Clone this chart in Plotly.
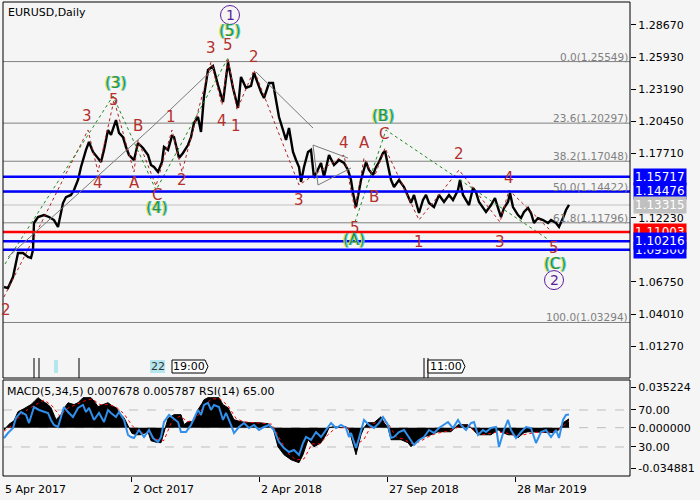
import plotly.graph_objects as go

W, H = 700, 500
FONT = "DejaVu Sans"

# ---------------- data ----------------
bars = [0, 4, 9, 10, 14, 19, 24, 27, 29, 30, 34, 40, 45, 50, 54, 59, 62, 67, 70, 74,
        77, 82, 85, 89, 94, 97, 100, 104, 107, 112, 115, 119, 122, 125, 130, 134, 139, 144, 147, 150,
        154, 158, 160, 164, 168, 170, 175, 179, 184, 187, 190, 194, 197, 200, 204, 209, 214, 219, 224, 229,
        234, 237, 242, 247, 250, 254, 257, 260, 265, 269, 272, 275, 279, 282, 285, 289, 292, 295, 297, 300,
        304, 307, 310, 314, 317, 320, 325, 330, 335, 340, 344, 347, 349, 352, 354, 357, 362, 365, 369, 372,
        375, 379, 381, 384, 387, 390, 395, 400, 404, 407, 410, 415, 419, 422, 425, 430, 435, 440, 445, 449,
        454, 456, 459, 462, 465, 469, 472, 475, 479, 482, 487, 491, 494, 497, 500, 504, 506, 509, 514, 517,
        520, 524, 527, 530, 534, 539, 544, 547, 552, 555, 559, 562, 565]
close = [1.0632, 1.0623, 1.0717, 1.0760, 1.0922, 1.0922, 1.0888, 1.0879, 1.0948, 1.1178, 1.1229, 1.1246, 1.1229, 1.1203, 1.1144, 1.1348, 1.1399, 1.1417, 1.1459, 1.1545,
         1.1656, 1.1801, 1.1869, 1.1784, 1.1732, 1.1698, 1.1801, 1.1971, 1.1929, 1.2056, 1.1946, 1.1911, 1.1826, 1.1758, 1.1715, 1.1860, 1.1818, 1.1758, 1.1673, 1.1656,
         1.1613, 1.1698, 1.1826, 1.1801, 1.1920, 1.1911, 1.1732, 1.1775, 1.1843, 1.1911, 1.2031, 1.2082, 1.1954, 1.2261, 1.2483, 1.2517, 1.2355, 1.2210, 1.2551, 1.2330,
         1.2159, 1.2424, 1.2330, 1.2347, 1.2458, 1.2355, 1.2295, 1.2244, 1.2372, 1.2372, 1.2227, 1.2082, 1.1971, 1.1886, 1.1988, 1.1784, 1.1715, 1.1656, 1.1528, 1.1656,
         1.1784, 1.1801, 1.1562, 1.1630, 1.1690, 1.1570, 1.1758, 1.1673, 1.1715, 1.1690, 1.1630, 1.1545, 1.1434, 1.1314, 1.1417, 1.1545, 1.1698, 1.1630, 1.1587, 1.1656,
         1.1698, 1.1775, 1.1792, 1.1656, 1.1545, 1.1485, 1.1545, 1.1485, 1.1400, 1.1349, 1.1417, 1.1263, 1.1374, 1.1417, 1.1349, 1.1314, 1.1417, 1.1357, 1.1417, 1.1374,
         1.1459, 1.1545, 1.1417, 1.1374, 1.1331, 1.1476, 1.1442, 1.1357, 1.1306, 1.1272, 1.1331, 1.1391, 1.1306, 1.1229, 1.1306, 1.1357, 1.1434, 1.1314, 1.1246, 1.1220,
         1.1272, 1.1306, 1.1263, 1.1178, 1.1220, 1.1203, 1.1178, 1.1203, 1.1178, 1.1144, 1.1220, 1.1289, 1.13315]

macd_bars = [0, 5, 10, 14, 19, 22, 27, 30, 34, 37, 40, 44, 47, 52, 57, 61, 64, 70, 74, 79,
             84, 87, 91, 94, 99, 104, 108, 112, 116, 120, 125, 128, 133, 137, 141, 144, 147, 152, 157, 160,
             164, 170, 177, 180, 184, 190, 194, 198, 200, 204, 210, 215, 219, 224, 230, 237, 245, 255, 264, 269,
             274, 280, 287, 295, 299, 304, 310, 317, 322, 325, 330, 337, 342, 345, 347, 352, 357, 360, 364, 370,
             377, 380, 384, 387, 392, 397, 404, 407, 414, 420, 427, 434, 442, 447, 454, 459, 464, 467, 474, 480,
             487, 494, 497, 504, 510, 514, 520, 524, 534, 540, 547, 552, 555, 559, 565]
macd = [-0.002, 0.003, 0.006, 0.0139, 0.016, 0.0173, 0.020, 0.0225, 0.026, 0.024, 0.0225, 0.020, 0.0173, 0.0069, 0.0113, 0.018, 0.0216, 0.020, 0.0216, 0.026,
        0.026, 0.026, 0.022, 0.0182, 0.020, 0.0216, 0.019, 0.0173, 0.012, 0.0087, 0.0, -0.005, -0.0061, -0.006, -0.0045, -0.0035, -0.0113, -0.0125, -0.013, -0.003,
        0.008, 0.0113, 0.0113, 0.0026, 0.0052, 0.0052, 0.0156, 0.021, 0.0242, 0.026, 0.026, 0.026, 0.0199, 0.0173, 0.0069, 0.0052, 0.0043, 0.0043, 0.0035, 0.0,
        -0.0165, -0.0234, -0.0277, -0.0303, -0.0234, -0.0104, -0.0165, -0.013, -0.0061, 0.0, 0.001, 0.0, 0.001, -0.002, -0.0078, -0.0234, -0.0061, 0.0, 0.0043, 0.0043,
        0.0095, 0.0043, 0.0, -0.0104, -0.0104, -0.0104, -0.013, -0.0165, -0.0104, -0.0078, -0.0061, -0.0035, -0.0035, -0.0035, 0.0026, 0.0026, 0.0026, 0.0, -0.0061, -0.0061,
        -0.0061, -0.0017, -0.0035, -0.0061, -0.0061, -0.0087, -0.0043, -0.0035, -0.0035, -0.0040, -0.0043, -0.0035, -0.0017, 0.0043, 0.007678]

sig_bars = [0, 8, 16, 24, 32, 40, 48, 56, 64, 72, 80, 88, 96, 104, 112, 120, 128, 136, 144, 152,
            160, 168, 176, 184, 192, 200, 208, 216, 224, 232, 240, 256, 268, 276, 284, 292, 300, 308, 316, 324,
            332, 344, 352, 360, 368, 376, 384, 392, 400, 408, 416, 424, 432, 444, 456, 464, 472, 480, 492, 500,
            512, 520, 532, 544, 552, 560, 565]
sig = [-0.003, 0.002, 0.010, 0.016, 0.020, 0.024, 0.019, 0.010, 0.017, 0.020, 0.023, 0.025, 0.020, 0.020, 0.018, 0.012, 0.002, -0.005, -0.004, -0.010,
       -0.011, 0.006, 0.010, 0.005, 0.008, 0.019, 0.025, 0.025, 0.019, 0.008, 0.005, 0.004, 0.003, -0.010, -0.022, -0.028, -0.027, -0.014, -0.014, -0.006,
       0.0, 0.0, -0.015, -0.010, 0.003, 0.006, 0.004, -0.008, -0.010, -0.014, -0.012, -0.008, -0.005, -0.003, 0.001, 0.002, -0.004, -0.006, -0.004, -0.004,
       -0.007, -0.006, -0.004, -0.004, -0.003, 0.002, 0.005787]

rsi_bars = [0, 4, 9, 12, 17, 22, 25, 30, 35, 40, 44, 47, 50, 54, 57, 60, 64, 69, 74, 79,
            82, 85, 90, 95, 100, 104, 107, 112, 115, 120, 124, 127, 130, 135, 140, 145, 149, 154, 157, 160,
            165, 169, 174, 177, 182, 187, 190, 194, 197, 200, 204, 207, 210, 215, 219, 222, 227, 230, 235, 240,
            245, 250, 255, 260, 265, 270, 275, 280, 285, 290, 295, 299, 302, 307, 312, 317, 322, 327, 332, 337,
            342, 345, 347, 352, 355, 360, 365, 370, 375, 379, 384, 387, 390, 395, 400, 405, 410, 415, 420, 425,
            430, 435, 440, 444, 449, 454, 457, 462, 467, 470, 474, 479, 482, 487, 492, 495, 500, 504, 507, 512,
            517, 522, 527, 532, 537, 542, 547, 552, 555, 559, 562, 565]
rsi = [39.7, 45.1, 50.5, 61.4, 67.8, 64.6, 55.9, 73.2, 70.0, 67.8, 66.8, 59.2, 53.8, 51.6, 61.4, 73.2, 67.8, 62.4, 72.2, 75.4,
       67.8, 72.2, 59.2, 66.8, 57.0, 70.0, 66.8, 62.4, 67.8, 59.2, 43.0, 40.8, 39.7, 48.4, 40.8, 48.4, 39.7, 35.4, 40.8, 57.0,
       64.6, 61.4, 57.0, 46.2, 46.2, 53.8, 61.4, 70.0, 64.6, 75.4, 77.6, 70.0, 75.4, 73.2, 59.2, 66.8, 53.8, 45.1, 51.6, 55.9,
       50.5, 53.8, 48.4, 51.6, 53.8, 48.4, 35.4, 28.9, 24.6, 26.8, 21.4, 34.3, 40.8, 37.6, 46.2, 40.8, 48.4, 55.9, 50.5, 53.8,
       50.5, 40.8, 45.1, 28.9, 39.7, 59.2, 53.8, 50.5, 55.9, 62.4, 53.8, 39.7, 40.8, 46.2, 48.4, 40.8, 32.2, 37.6, 40.8, 48.4,
       45.1, 50.5, 53.8, 57.0, 50.5, 59.2, 53.8, 48.4, 55.9, 57.0, 43.0, 48.4, 46.2, 50.5, 51.6, 30.0, 48.4, 59.2, 48.4, 39.7,
       46.2, 51.6, 50.5, 34.3, 46.2, 48.4, 40.8, 48.4, 39.7, 59.2, 64.6, 65.0]

fib_levels = [1.25549, 1.20297, 1.17048, 1.14422, 1.11796, 1.03294]
fib_pct = ["0.0", "23.6", "38.2", "50.0", "61.8", "100.0"]
blue_levels = [1.15717, 1.14476, 1.10216, 1.09500]
red_level = 1.11003
last_price = 1.13315
price_ticks = [1.28670, 1.25930, 1.23190, 1.20450, 1.17710, 1.12230, 1.06750, 1.04010, 1.01270]
date_bars = [-1, 127, 255, 383, 511]
date_labels = ["5 Apr 2017", "2 Oct 2017", "2 Apr 2018", "27 Sep 2018", "28 Mar 2019"]

# wave labels
minor_txt = ["2", "3", "5", "B", "4", "A", "1", "C", "2", "3", "5", "4", "1", "2", "3", "4", "A", "C", "B", "5", "1", "2", "4", "3", "5"]
minor_bar = [2, 83, 110, 134, 94, 130, 167, 153, 178, 207, 224, 218, 232, 250, 295, 340, 360, 380, 370, 351, 415, 455, 505, 496, 550]
minor_px = [1.0436, 1.2091, 1.2227, 1.2005, 1.1519, 1.1519, 1.2082, 1.1417, 1.1545, 1.2671, 1.2696, 1.2048, 1.2005, 1.2594, 1.1374,
            1.1860, 1.1860, 1.1937, 1.1400, 1.1135, 1.1016, 1.1766, 1.1562, 1.1016, 1.0965]
inter_txt = ["(3)", "(5)", "(4)", "(B)", "(A)", "(C)"]
inter_bar = [111, 225, 152, 379, 350, 551]
inter_px = [1.2372, 1.2816, 1.1306, 1.2091, 1.1033, 1.0828]
prim_txt = ["1", "2"]
prim_bar = [226, 550]
prim_px = [1.2952, 1.0691]

# wave paths
minor_path_bar = [0, 84, 94, 110, 130, 134, 152, 168, 178, 207, 218, 224, 233, 250, 295, 340, 351, 360, 370, 381, 415, 455, 496, 505, 549]
minor_path_px = [1.0547, 1.1971, 1.1613, 1.2227, 1.1613, 1.1886, 1.1494, 1.1971, 1.1613, 1.2551, 1.2184, 1.2585, 1.2142, 1.2483, 1.1502,
                 1.1758, 1.1289, 1.1732, 1.1562, 1.1818, 1.1204, 1.1630, 1.1186, 1.1459, 1.1093]
inter_path1_bar = [1, 109, 152, 225]
inter_path1_px = [1.0828, 1.2261, 1.1459, 1.2602]
inter_path2_bar = [351, 382, 545]
inter_path2_px = [1.1186, 1.1971, 1.1033]

# gray channel / triangle lines: (bar0, price0, bar1, price1)
gray_lines = [(4, 1.0888, 147, 1.1988), (147, 1.1988, 210, 1.2500), (252, 1.2466, 309, 1.1988),
              (309, 1.1843, 344, 1.1732), (314, 1.1502, 347, 1.1647), (309, 1.1843, 314, 1.1502)]

# ---------------- figure ----------------
def pxx(p):
    return p / W


def pxy(p):
    return 1 - p / H


X0, X1 = pxx(3), pxx(630)
MAIN = [pxy(378), pxy(2)]
SUB = [pxy(476), pxy(380)]
RED = "#B4302C"
GREEN = "#22904A"
PURPLE = "#5B1F9A"

fig = go.Figure()

# price
fig.add_trace(go.Scatter(x=bars, y=close, mode="lines", line=dict(color="black", width=2.4),
                         xaxis="x", yaxis="y", hoverinfo="skip"))
# wave paths
fig.add_trace(go.Scatter(x=minor_path_bar, y=minor_path_px, mode="lines",
                         line=dict(color="#B22222", width=1, dash="dot"), xaxis="x", yaxis="y"))
fig.add_trace(go.Scatter(x=inter_path1_bar, y=inter_path1_px, mode="lines",
                         line=dict(color="#1E8C1E", width=1, dash="dot"), xaxis="x", yaxis="y"))
fig.add_trace(go.Scatter(x=inter_path2_bar, y=inter_path2_px, mode="lines",
                         line=dict(color="#1E8C1E", width=1, dash="dot"), xaxis="x", yaxis="y"))

# MACD histogram, signal, RSI
fig.add_trace(go.Scatter(x=macd_bars, y=macd, mode="lines", fill="tozeroy", fillcolor="black",
                         line=dict(color="black", width=1), xaxis="x2", yaxis="y2"))
fig.add_trace(go.Scatter(x=sig_bars, y=sig, mode="lines", line=dict(color="red", width=1, dash="dot"),
                         xaxis="x2", yaxis="y2"))
fig.add_trace(go.Scatter(x=rsi_bars, y=rsi, mode="lines", line=dict(color="#2F8FEA", width=2),
                         xaxis="x2", yaxis="y3"))

shapes = []
# fibonacci levels
for lv in fib_levels:
    shapes.append(dict(type="line", xref="paper", yref="y", x0=X0, x1=X1, y0=lv, y1=lv,
                       line=dict(color="#808080", width=1), layer="below"))
shapes.append(dict(type="line", xref="paper", yref="y", x0=X0, x1=X1, y0=last_price, y1=last_price,
                   line=dict(color="#C0C0C0", width=1), layer="below"))
for lv in blue_levels:
    shapes.append(dict(type="line", xref="paper", yref="y", x0=X0, x1=X1, y0=lv, y1=lv,
                       line=dict(color="#0000FF", width=2.5)))
shapes.append(dict(type="line", xref="paper", yref="y", x0=X0, x1=X1, y0=red_level, y1=red_level,
                   line=dict(color="#FF0000", width=2.5)))
for b0, p0, b1, p1 in gray_lines:
    shapes.append(dict(type="line", xref="x", yref="y", x0=b0, x1=b1, y0=p0, y1=p1,
                       line=dict(color="#7A7A7A", width=1)))
# circles around primary degree
for b, p in zip(prim_bar, prim_px):
    shapes.append(dict(type="circle", xref="x", yref="y", xsizemode="pixel", ysizemode="pixel",
                       xanchor=b, yanchor=p, x0=-9.5, x1=9.5, y0=-9.5, y1=9.5,
                       line=dict(color=PURPLE, width=1)))
# MACD panel levels
for v, ref in [(70, "y3"), (0, "y2"), (30, "y3")]:
    shapes.append(dict(type="line", xref="paper", yref=ref, x0=X0, x1=X1, y0=v, y1=v,
                       line=dict(color="#BDBDBD", width=1, dash="dash"), layer="below"))
# time markers at bottom of main panel
for b in [30, 35, 75, 420, 424]:
    shapes.append(dict(type="line", xref="x", yref="paper", x0=b, x1=b, y0=pxy(378), y1=pxy(358),
                       line=dict(color="black", width=1)))
shapes.append(dict(type="rect", xref="x", yref="paper", x0=50, x1=54, y0=pxy(373), y1=pxy(360),
                   fillcolor="#B4E6EE", line=dict(width=0)))
shapes.append(dict(type="rect", xref="x", yref="paper", x0=146, x1=161, y0=pxy(373), y1=pxy(360),
                   fillcolor="#B4E6EE", line=dict(width=0)))
for a, b in [(168, 201), (424, 458)]:
    shapes.append(dict(type="path", xref="x", yref="paper",
                       path=f"M {a},{pxy(360)} L {b},{pxy(360)} L {b+3},{pxy(366.5)} L {b},{pxy(373)} L {a},{pxy(373)} Z",
                       fillcolor="white", line=dict(color="black", width=1)))
# panel frames
shapes.append(dict(type="rect", xref="paper", yref="paper", x0=X0, x1=X1, y0=MAIN[0], y1=MAIN[1],
                   line=dict(color="black", width=1)))
shapes.append(dict(type="rect", xref="paper", yref="paper", x0=X0, x1=X1, y0=SUB[0], y1=SUB[1],
                   line=dict(color="black", width=1)))

ann = []
ann.append(dict(text="EURUSD,Daily", xref="paper", yref="paper", x=pxx(6), y=pxy(12), xanchor="left",
                yanchor="middle", showarrow=False, font=dict(family=FONT, size=11, color="black")))
ann.append(dict(text="MACD(5,34,5) 0.007678 0.005787 RSI(14) 65.00", xref="paper", yref="paper",
                x=pxx(5), y=pxy(391), xanchor="left", yanchor="middle", showarrow=False,
                font=dict(family=FONT, size=11, color="black")))
for lv, pc in zip(fib_levels, fib_pct):
    ann.append(dict(text=f"{pc}({lv:.5f})", xref="paper", yref="y", x=pxx(629), y=lv, xanchor="right",
                    yanchor="bottom", showarrow=False, borderpad=0, yshift=-2,
                    font=dict(family=FONT, size=10.5, color="#808080")))
for b, lab in zip(date_bars, date_labels):
    ann.append(dict(text=lab, xref="x2", yref="paper", x=b, y=pxy(489), xanchor="left", yanchor="middle",
                    showarrow=False, font=dict(family=FONT, size=11, color="black")))
# wave labels
for t, b, p in zip(minor_txt, minor_bar, minor_px):
    ann.append(dict(text=t, xref="x", yref="y", x=b, y=p, showarrow=False,
                    font=dict(family=FONT, size=15, color=RED)))
for t, b, p in zip(inter_txt, inter_bar, inter_px):
    ann.append(dict(text=t, xref="x", yref="y", x=b, y=p, showarrow=False,
                    font=dict(family=FONT, size=15, color=GREEN,
                              shadow="-1px 0px 0px #E8E040, 1px 0px 0px #40D0E0")))
for t, b, p in zip(prim_txt, prim_bar, prim_px):
    ann.append(dict(text=t, xref="x", yref="y", x=b, y=p, showarrow=False,
                    font=dict(family=FONT, size=14, color=PURPLE)))
# time marker texts
for t, b, c in [("22", 153.5, "#333333"), ("19:00", 185, "black"), ("11:00", 441.5, "black")]:
    ann.append(dict(text=t, xref="x", yref="paper", x=b, y=pxy(366.5), xanchor="center", yanchor="middle",
                    showarrow=False, font=dict(family=FONT, size=11, color=c)))
# right-axis price boxes
boxes = [(blue_levels[0], "#0000FF", "white"), (blue_levels[1], "#0000FF", "white"),
         (last_price, "#C0C0C0", "white"), (red_level, "#FF0000", "white"),
         (blue_levels[3], "#0000FF", "white"), (blue_levels[2], "#0000FF", "white")]
for lv, bg, fc in boxes:
    ann.append(dict(text=f"{lv:.5f}", xref="paper", yref="y", x=pxx(633), y=lv, xanchor="left",
                    yanchor="middle", showarrow=False, bgcolor=bg, borderpad=1,
                    font=dict(family=FONT, size=12, color=fc)))

axis_common = dict(showgrid=False, zeroline=False, showline=False)
fig.update_layout(
    width=W, height=H, autosize=False, margin=dict(l=0, r=0, t=0, b=0),
    paper_bgcolor="#F5F5F5", plot_bgcolor="#F5F5F5", showlegend=False,
    xaxis=dict(domain=[X0, X1], range=[-1, 626], anchor="y", showticklabels=False, ticks="", **axis_common),
    yaxis=dict(domain=MAIN, range=[1.30801 - 0.000853 * 378, 1.30801 - 0.000853 * 2], side="right",
               anchor="x", tickvals=price_ticks, ticktext=[f"{v:.5f}" for v in price_ticks],
               ticks="outside", ticklen=5, tickcolor="black",
               tickfont=dict(family=FONT, size=11, color="black"), **axis_common),
    xaxis2=dict(domain=[X0, X1], range=[-1, 626], anchor="y2", matches="x", tickvals=date_bars[1:],
                showticklabels=False, ticks="outside", ticklen=5, tickcolor="black", **axis_common),
    yaxis2=dict(domain=SUB, range=[-0.04181, 0.04129], side="right", anchor="x2",
                tickvals=[0.035224, 0.0, -0.034881], ticktext=["0.035224", "0.000000", "-0.034881"],
                ticks="outside", ticklen=5, tickcolor="black",
                tickfont=dict(family=FONT, size=11, color="black"), **axis_common),
    yaxis3=dict(overlaying="y2", range=[-1.35, 102.4], side="right", anchor="x2",
                tickvals=[70, 30], ticktext=["70.00", "30.00"], ticks="outside", ticklen=5, tickcolor="black",
                tickfont=dict(family=FONT, size=11, color="black"), **axis_common),
    shapes=shapes, annotations=ann,
)

fig.write_html("out.html", config={"displayModeBar": False},
               post_script="document.body.style.margin='0';document.body.style.background='#F5F5F5';")
